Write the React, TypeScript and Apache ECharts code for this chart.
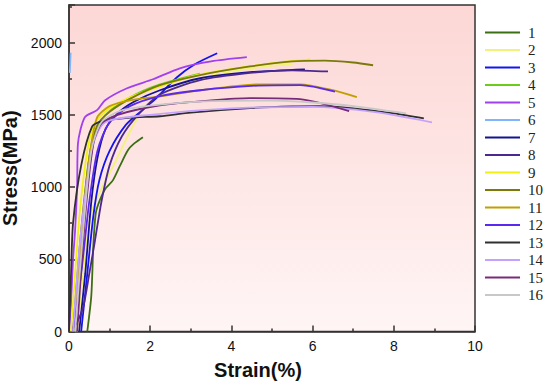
import React, { useEffect, useRef } from "react";
import * as echarts from "echarts";

const seriesNames = ["1","2","3","4","5","6","7","8","9","10","11","12","13","14","15","16"];
const seriesColors = ["#3c6e14","#f2f27a","#1414f0","#6ccc1c","#a040f0","#80b4ff","#141490","#4c2890","#f0f014","#7a7a0a","#c0a000","#5a28f0","#303030","#c4a0ff","#7a2a7a","#c8c8c8"];

const c1 = [[0.45,0],[0.55,250],[0.6,600],[0.66,820],[0.76,909],[0.9,990],[1.08,1046],[1.26,1150],[1.45,1255],[1.6,1300],[1.82,1345]];
const c2 = [[0.2,0],[0.35,400],[0.57,840],[1.16,1185],[1.75,1511],[2.17,1621],[3,1730],[4,1800],[5,1840],[5.5,1850]];
const c3 = [[0.3,0],[0.45,400],[0.6,800],[0.75,1050],[1.0,1250],[1.4,1430],[1.8,1530],[2.17,1621],[2.66,1760],[3.1,1850],[3.65,1926]];
const c4 = [[0.15,0],[0.3,600],[0.45,1100],[0.6,1350],[0.9,1500],[1.5,1620],[2.24,1710],[3.23,1785]];
const c5 = [[0,0],[0.05,200],[0.1,500],[0.15,700],[0.2,1000],[0.22,1300],[0.39,1483],[0.69,1532],[0.89,1601],[1.43,1684],[2.07,1746],[2.73,1822],[3.5,1870],[4.38,1899]];
const c6 = [[0.02,1790],[0.03,1860],[0.04,1930]];
const c7 = [[0.25,0],[0.4,400],[0.55,900],[0.7,1200],[0.9,1400],[1.2,1510],[1.6,1590],[2.24,1670],[3.23,1753],[4.46,1795],[5.81,1815]];
const c8 = [[0.05,20],[0.15,40],[0.35,170],[0.5,400],[0.64,630],[0.8,900],[1.0,1150],[1.3,1350],[1.7,1500],[2.24,1640],[3.23,1740],[4.46,1790],[5.5,1808],[6.38,1800]];
const c9 = [[0.05,0],[0.15,400],[0.27,840],[0.45,1250],[0.6,1420],[0.76,1485],[1.0,1545],[1.43,1613],[2.17,1690],[3.23,1780],[4.46,1836],[5.2,1865],[5.94,1884]];
const c10 = [[0.1,0],[0.3,700],[0.5,1200],[0.7,1430],[1.0,1520],[1.5,1610],[2.24,1705],[3.23,1775],[4.46,1835],[5.5,1870],[6.3,1875],[7,1862],[7.49,1843]];
const c11 = [[0.1,0],[0.2,300],[0.32,700],[0.5,1200],[0.69,1480],[1.0,1560],[1.5,1600],[2.24,1628],[3.23,1670],[4.7,1711],[5.69,1711],[6.5,1670],[7.09,1622]];
const c12 = [[0.1,0],[0.3,400],[0.5,900],[0.7,1250],[1.0,1450],[1.5,1560],[2.24,1630],[3.23,1670],[4.5,1700],[5.7,1705],[6.55,1660]];
const c13 = [[0,0],[0.05,400],[0.1,750],[0.3,1150],[0.57,1420],[0.8,1455],[1.5,1480],[2.24,1490],[3,1515],[4.46,1546],[5.5,1558],[6.18,1560],[7,1545],[8,1510],[8.74,1476]];
const c14 = [[0.1,0],[0.3,700],[0.6,1300],[0.9,1450],[2,1500],[4,1545],[6,1555],[7.5,1520],[8.94,1448]];
const c15 = [[0.2,0],[0.4,800],[0.6,1300],[0.8,1440],[1.2,1500],[2.24,1566],[3.5,1600],[4.46,1615],[5.69,1608],[6.9,1525]];
const c16 = [[0.15,0],[0.35,700],[0.55,1250],[0.8,1450],[1.3,1530],[2.24,1570],[3.5,1595],[5,1598],[6,1585],[7,1560],[8.3,1510]];

const curves = [c1,c2,c3,c4,c5,c6,c7,c8,c9,c10,c11,c12,c13,c14,c15,c16];

export default function App() {
  const ref = useRef<HTMLDivElement>(null);
  useEffect(() => {
    if (!ref.current) return;
    const chart = echarts.init(ref.current, undefined, { renderer: "svg" });
    const axisColor = "#333";
    chart.setOption({
      animation: false,
      grid: {
        left: 69, top: 5, right: 75, bottom: 57.5,
        outerBoundsMode: "none",
        containLabel: false,
        show: true,
        borderColor: axisColor,
        borderWidth: 1.5,
        backgroundColor: new echarts.graphic.LinearGradient(0, 0, 0, 1, [
          { offset: 0, color: "#fcd7d5" },
          { offset: 1, color: "#fff5f5" },
        ]),
      },
      legend: {
        orient: "vertical",
        left: 480,
        top: 20,
        icon: "rect",
        itemWidth: 35,
        itemHeight: 2,
        itemGap: 2.5,
        data: seriesNames,
        textStyle: { fontFamily: "Liberation Serif", fontSize: 15, lineHeight: 15, color: "#222", padding: [0, 0, 0, 3] },
      },
      xAxis: {
        type: "value",
        min: 0, max: 10, interval: 2,
        name: "Strain(%)",
        nameLocation: "middle",
        nameGap: 28,
        nameTextStyle: { fontFamily: "Liberation Sans", fontWeight: "bold", fontSize: 20, color: "#111", padding: [0, 28, 0, 0] },
        axisLine: { show: true, lineStyle: { color: axisColor, width: 1.5 } },
        axisTick: { show: true, inside: true, length: 6, lineStyle: { color: axisColor, width: 1.5 } },
        minorTick: { show: true, splitNumber: 2, length: 3, lineStyle: { color: axisColor, width: 1.5 } },
        axisLabel: { fontFamily: "Liberation Sans", fontSize: 14, color: "#111", margin: 7 },
        splitLine: { show: false },
      },
      yAxis: {
        type: "value",
        min: 0, max: 2260, interval: 500,
        name: "Stress(MPa)",
        nameLocation: "middle",
        nameGap: 44,
        nameTextStyle: { fontFamily: "Liberation Sans", fontWeight: "bold", fontSize: 20, color: "#111" },
        axisLine: { show: true, lineStyle: { color: axisColor, width: 1.5 } },
        axisTick: { show: true, inside: true, length: 6, lineStyle: { color: axisColor, width: 1.5 } },
        minorTick: { show: true, splitNumber: 2, length: 3, lineStyle: { color: axisColor, width: 1.5 } },
        axisLabel: {
          fontFamily: "Liberation Sans", fontSize: 14, color: "#111", margin: 7,
          formatter: (v: number) => (v % 500 === 0 ? String(v) : ""),
        },
        splitLine: { show: false },
      },
      series: curves.map((d, i) => ({
        name: seriesNames[i],
        type: "line",
        data: d,
        smooth: 0.25,
        symbol: "none",
        lineStyle: { color: seriesColors[i], width: 1.8 },
        itemStyle: { color: seriesColors[i] },
      })),
    });
    return () => chart.dispose();
  }, []);
  return <div ref={ref} style={{ position: "absolute", left: 0, top: 0, width: 550, height: 389 }} />;
}
